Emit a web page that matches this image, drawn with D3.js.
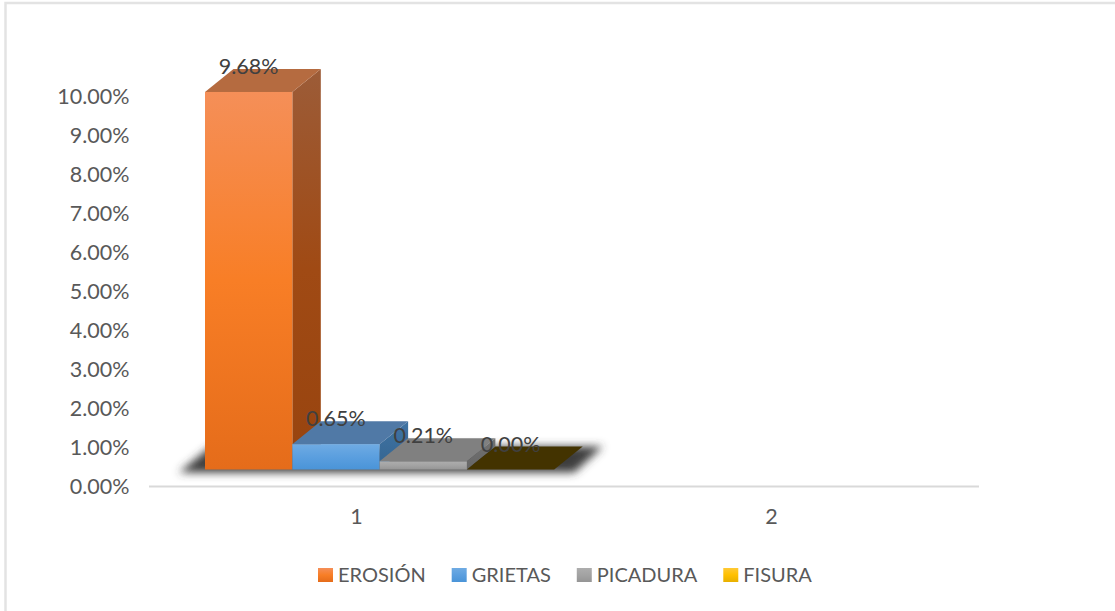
<!DOCTYPE html>
<html><head><meta charset="utf-8">
<script src="https://cdn.jsdelivr.net/npm/d3@7"></script>
<style>html,body{margin:0;padding:0;background:#fff}svg{display:block}text{font-family:Lato,sans-serif}</style>
</head><body><div id="c"></div>
<script>
const categories = ["1", "2"];
const seriesNames = ["EROSIÓN", "GRIETAS", "PICADURA", "FISURA"];
const seriesValues = [9.68, 0.65, 0.21, 0.00];
const valueLabels = ["9.68%", "0.65%", "0.21%", "0.00%"];
const yTicks = [0,1,2,3,4,5,6,7,8,9,10];
const frontStops = [["#F58F58","#F87E26","#E56C1A"],["#6FABE3","#5B9FDF","#4A94D8"],["#ADADAD","#A3A3A3","#959595"],["#FFC935","#FFC000","#E8B000"]];
const sideStops = [["#9C5C38","#A04A14","#98440F"],["#3F73A3","#3A6C9A","#34648F"],["#707070","#6C6C6C","#666666"],["#7F6000","#7F6000","#7F6000"]];
const topColors = ["#B56B40","#5079A6","#808080","#433300"];

const W=1115,H=611;
const svg=d3.select("#c").append("svg").attr("width",W).attr("height",H);
const defs=svg.append("defs");
function grad(id,stops){
  const g=defs.append("linearGradient").attr("id",id).attr("x1",0).attr("y1",0).attr("x2",0).attr("y2",1);
  stops.forEach((c,i)=>g.append("stop").attr("offset",i/(stops.length-1)).attr("stop-color",c));
}
frontStops.forEach((s,i)=>grad("f"+i,s));
sideStops.forEach((s,i)=>grad("s"+i,s));
defs.append("filter").attr("id","blur").attr("x","-10%").attr("y","-50%").attr("width","120%").attr("height","200%")
  .append("feGaussianBlur").attr("stdDeviation",4);

// frame
svg.append("path").attr("d",`M5.5,${H}V3H${W}`).attr("fill","none").attr("stroke","#e3e3e3").attr("stroke-width",2.5);

const y=d3.scaleLinear().domain([0,10]).range([486,96]);
const xCat=d3.scaleBand().domain(categories).range([149,979]);
const floorOffset=16.5, depthX=28.5, depthY=23;
const xSer=d3.scaleBand().domain(seriesNames).range([205,554.2]);
const base=y(0)-floorOffset;
const barTop=v=>y(v)-floorOffset;
const fontSize="21.5px";

// axis
const yAxis=d3.axisLeft(y).tickValues(yTicks).tickSize(0).tickFormat(d=>d3.format(".2f")(d)+"%");
const ga=svg.append("g").attr("transform","translate(129.5,0.5)").call(yAxis);
ga.select(".domain").remove();
ga.selectAll("text").attr("x",0).attr("fill","#595959").style("font-size",fontSize).style("font-family","Lato,sans-serif");
svg.append("line").attr("x1",149).attr("x2",979).attr("y1",y(0)+0.5).attr("y2",y(0)+0.5).attr("stroke","#d9d9d9").attr("stroke-width",2);
svg.selectAll(".cat").data(categories).join("text").attr("class","cat")
  .attr("x",d=>xCat(d)+xCat.bandwidth()/2).attr("y",524).attr("text-anchor","middle")
  .attr("fill","#595959").style("font-size",fontSize).text(d=>d);

// floor shadow
const x0=xSer.range()[0], x1=xSer.range()[1];
svg.append("path").attr("filter","url(#blur)").attr("fill","#3c3c3c")
  .attr("d",`M${x0-26},${base+3}L${x0+6},${base-depthY}H${x1+depthX+20}L${x1+20},${base+3}Z`);

// bars
const bars=svg.selectAll(".bar").data(seriesNames.map((n,i)=>({n,i,v:seriesValues[i]}))).join("g").attr("class","bar");
bars.append("path").attr("fill",d=>`url(#s${d.i})`).attr("d",d=>{
  const r=xSer(d.n)+xSer.bandwidth(),t=barTop(d.v);
  return `M${r},${t}L${r+depthX},${t-depthY}V${base-depthY}L${r},${base}Z`;});
bars.append("path").attr("fill",d=>topColors[d.i]).attr("d",d=>{
  const l=xSer(d.n),r=l+xSer.bandwidth(),t=barTop(d.v);
  return `M${l},${t}L${l+depthX},${t-depthY}H${r+depthX}L${r},${t}Z`;});
bars.filter(d=>d.v>0).append("rect").attr("fill",d=>`url(#f${d.i})`)
  .attr("x",d=>xSer(d.n)).attr("y",d=>barTop(d.v)).attr("width",xSer.bandwidth()).attr("height",d=>base-barTop(d.v));
svg.selectAll(".vl").data(seriesNames).join("text").attr("class","vl")
  .attr("x",d=>xSer(d)+xSer.bandwidth()/2).attr("y",(d,i)=>barTop(seriesValues[i])-18)
  .attr("text-anchor","middle").attr("fill","#404040").style("font-size",fontSize).text((d,i)=>valueLabels[i]);

// legend
let lx=318;
const leg=svg.append("g");
seriesNames.forEach((n,i)=>{
  leg.append("rect").attr("x",lx).attr("y",568).attr("width",15).attr("height",14).attr("fill",`url(#f${i})`);
  const t=leg.append("text").attr("x",lx+20).attr("y",582).attr("fill","#595959").style("font-size","20px").text(n);
  lx+=20+t.node().getComputedTextLength()+26;
});
</script></body></html>
